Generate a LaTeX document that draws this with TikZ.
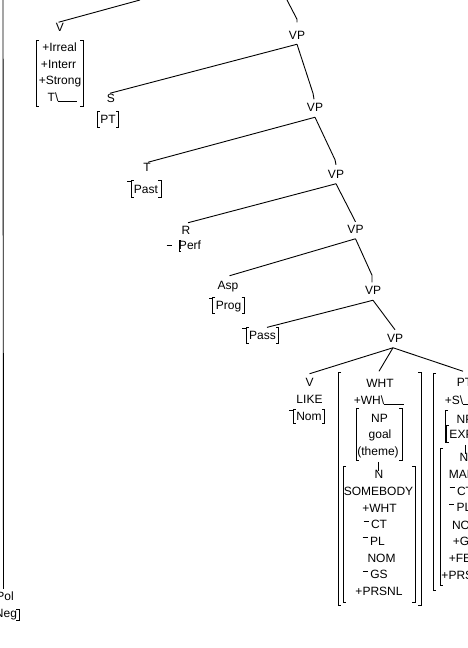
\documentclass[tikz,border=0pt]{standalone}
\usepackage{fontspec}
\setmainfont{Liberation Sans}
\newcommand\lbfont{\fontsize{12pt}{14pt}\selectfont}
\newcommand\mn{\llap{\rule[7.4pt]{5pt}{0.8pt}\hspace{2.5pt}}}
\newcommand\trace[1]{\textbackslash\rule{#1}{0.8pt}}
\newcommand\LBr[3]{\draw[bline] (#1+3,#2) -- (#1,#2) -- (#1,#3) -- (#1+3,#3);}
\newcommand\RBr[3]{\draw[bline] (#1-3,#2) -- (#1,#2) -- (#1,#3) -- (#1-3,#3);}
\newcommand\BrkN[1]{\draw[bline] ([xshift=2.5pt]#1.north west) -- (#1.north west) -- (#1.south west) -- ([xshift=2.5pt]#1.south west) ([xshift=-2.5pt]#1.north east) -- (#1.north east) -- (#1.south east) -- ([xshift=-2.5pt]#1.south east);}
\begin{document}
\begin{tikzpicture}[x=1pt,y=-1pt,line width=0.9pt,
  lbl/.style={inner sep=0pt,text height=8.6pt,text depth=0pt,font=\lbfont},
  bnode/.style={lbl,inner xsep=2.5pt,inner ysep=3.4pt},
  bline/.style={line width=0.9pt}]
\useasboundingbox (0,0) rectangle (468,648);
\clip (0,0) rectangle (468,648);

% free ends of edges leaving the picture
\coordinate (topV) at (140,0);
\coordinate (topVP) at (287,0);
\coordinate (topPol) at (3,0);

% V with features
\node[lbl] (vtop) at (60,27) {V};
\node[lbl] at (59.5,47.5) {+Irreal};
\node[lbl] at (58.5,64) {+Interr};
\node[lbl] at (60,80.5) {+Strong};
\node[lbl] at (62.5,97.5) {T\trace{19pt}};
\LBr{36}{40}{106} \RBr{83}{40}{106}

% spine
\node[lbl] (vp1) at (297,35) {VP};
\node[lbl] (s) at (111,98) {S};
\node[bnode] (ptf) at (108,119.5) {PT};
\node[lbl] (vp2) at (315,107.5) {VP};
\node[lbl] (t) at (147,167) {T};
\node[bnode] (past) at (146,189) {Past};
\node[lbl] (vp3) at (336,174) {VP};
\node[lbl] (r) at (186,230) {R};
\node[lbl] (perf) at (190,245.5) {Perf};
\node[lbl] (vp4) at (355.5,229) {VP};
\node[lbl] (asp) at (228,285) {Asp};
\node[bnode] (prog) at (228.5,305.5) {Prog};
\node[lbl] (vp5) at (373,290.5) {VP};
\node[bnode] (pass) at (262.5,335.5) {Pass};
\node[lbl] (vp6) at (395,338) {VP};

% V LIKE
\node[lbl] (vlike) at (309.5,382.5) {V};
\node[lbl] (like) at (309.5,399.5) {LIKE};
\node[bnode,inner ysep=2.5pt] (nom) at (309,416.5) {Nom};

% WHT column
\node[lbl] (wht) at (380,383) {WHT};
\node[lbl] at (379,400) {+WH\trace{20pt}};
\node[lbl] (np1) at (379.5,418) {NP};
\node[lbl] at (380,434.5) {goal};
\node[lbl] at (378,451) {(theme)};
\node[lbl] (n1) at (379,474.5) {N};
\node[lbl] at (378.5,491.5) {SOMEBODY};
\node[lbl] at (379.5,508) {+WHT};
\node[lbl] at (379,524.5) {\mn CT};
\node[lbl] at (377.5,541) {\mn PL};
\node[lbl] at (381.5,558) {NOM};
\node[lbl] at (379,574.5) {\mn GS};
\node[lbl] at (379,591) {+PRSNL};
\LBr{338}{372}{605} \RBr{421}{372}{605}
\LBr{356}{408}{460} \RBr{402}{408}{460}
\LBr{343}{466}{602} \RBr{415}{466}{602}
\draw ([xshift=-0.5pt,yshift=8pt]n1.north) -- ([xshift=-0.5pt,yshift=-1pt]n1.north);

% PT column
\node[lbl] (pt) at (464.5,382.5) {PT};
\node[lbl] at (463,400) {+S\trace{18pt}};
\node[lbl] at (465,419) {NP};
\node[bnode] (exp) at (461.5,434) {EXP};
\node[lbl] (n2) at (464,457.5) {N};
\node[lbl] at (466,474) {MARY};
\node[lbl] at (465,491) {\mn CT};
\node[lbl] at (464,507.5) {\mn PL};
\node[lbl] at (466,525) {NOM};
\node[lbl] at (465,541.5) {+GS};
\node[lbl] at (465,558) {+FEM};
\node[lbl] at (465,575) {+PRSNL};
\LBr{433}{373}{590}
\LBr{445}{410}{442}
\LBr{440}{448}{585}
\draw ([xshift=1pt,yshift=8pt]n2.north) -- ([xshift=1pt,yshift=-1pt]n2.north);

% Pol
\node[lbl] (pol) at (5,596.5) {Pol};
\node[lbl] (neg) at (6,613.5) {Neg};
\RBr{19}{609}{620}

% bracketed single labels
\BrkN{ptf} \BrkN{past} \BrkN{prog} \BrkN{pass} \BrkN{nom} \BrkN{exp}
\draw ([yshift=-1pt]past.north west) -- ++(-4pt,0pt);
\draw ([yshift=-1pt]prog.north west) -- ++(-4pt,0pt);
\draw ([yshift=-1pt]pass.north west) -- ++(-4pt,0pt);
\draw ([yshift=-1.5pt]nom.north west) -- ++(-4pt,0pt);
\draw ([xshift=-12pt]perf.west) -- ++(5pt,0pt);
\draw ([xshift=2.5pt,yshift=5.5pt]perf.west) -- ([xshift=1pt,yshift=5.5pt]perf.west) -- ([xshift=1pt,yshift=-5.5pt]perf.west) -- ([xshift=2.5pt,yshift=-5.5pt]perf.west);

% edges
\draw (topV) -- ([xshift=-1.5pt]vtop.north);
\draw (topVP) -- ([yshift=11pt]vp1.north) -- ([yshift=8pt]vp1.north);
\draw ([yshift=-4.5pt]vp1.south) -- ([xshift=-1pt]s.north);
\draw ([yshift=-4.5pt]vp1.south) -- ([xshift=-2pt,yshift=9.5pt]vp2.north) -- ([xshift=-1pt,yshift=3.5pt]vp2.north);
\draw ([yshift=-5pt]vp2.south) -- ([xshift=1pt]t.north);
\draw ([yshift=-5pt]vp2.south) -- ([xshift=-1pt,yshift=9.5pt]vp3.north) -- ([yshift=4.5pt]vp3.north);
\draw ([yshift=-5pt]vp3.south) -- ([xshift=2pt,yshift=2.5pt]r.north);
\draw ([yshift=-5pt]vp3.south) -- ([yshift=2.5pt]vp4.north);
\draw ([yshift=-5pt]vp4.south) -- ([xshift=1.5pt,yshift=4.5pt]asp.north);
\draw ([yshift=-5pt]vp4.south) -- ([xshift=-1pt,yshift=10.5pt]vp5.north) -- ([xshift=-1pt,yshift=3.5pt]vp5.north);
\draw ([yshift=-5pt]vp5.south) -- ([xshift=4.5pt]pass.north);
\draw ([yshift=-5pt]vp5.south) -- ([yshift=3.5pt]vp6.north);
\draw ([xshift=-2pt,yshift=-5pt]vp6.south) -- ([yshift=4pt]vlike.north);
\draw ([xshift=-2pt,yshift=-5pt]vp6.south) -- ([xshift=-1pt,yshift=7pt]wht.north);
\draw ([xshift=-2pt,yshift=-5pt]vp6.south) -- ([xshift=-1.5pt,yshift=6.5pt]pt.north);
\draw (topPol) -- ([xshift=-1.5pt,yshift=3pt]pol.north);
\end{tikzpicture}
\end{document}
